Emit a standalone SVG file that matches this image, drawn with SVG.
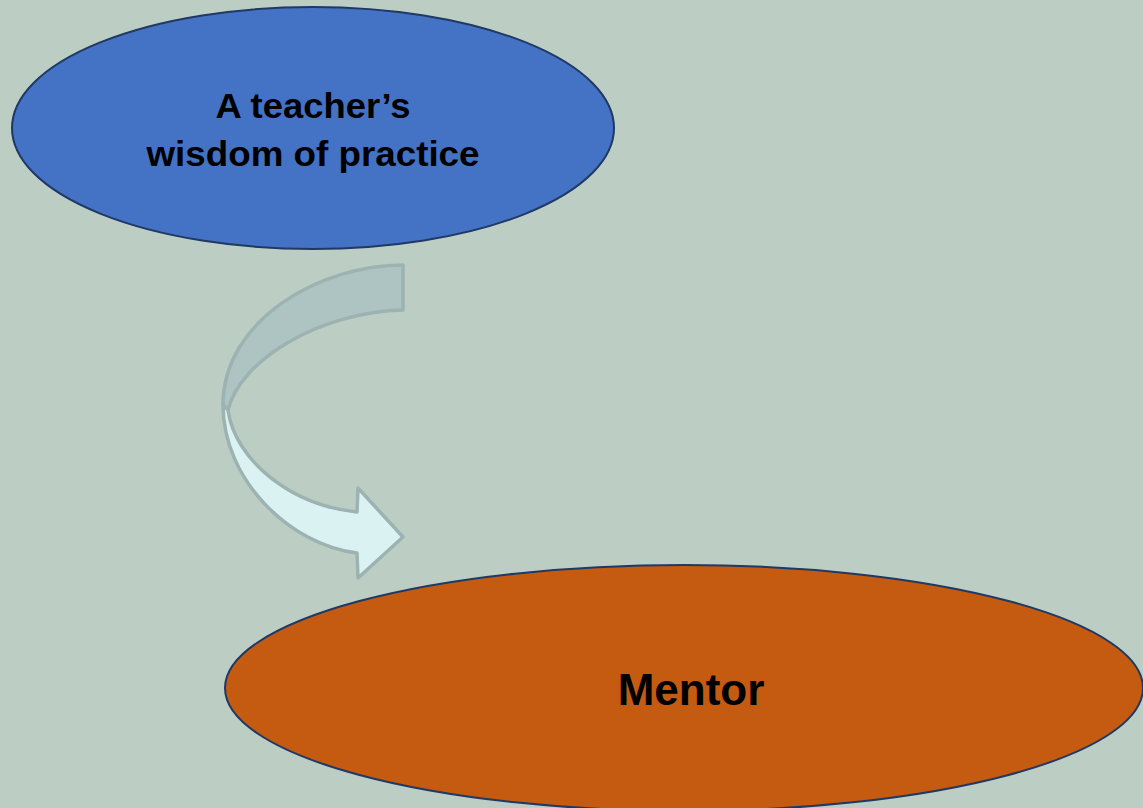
<svg xmlns="http://www.w3.org/2000/svg" width="1143" height="808" viewBox="0 0 1143 808">
<style>
.node { stroke: #203864; stroke-width: 2; }
.lbl { font-family: "Liberation Sans", Arial, sans-serif; font-weight: bold; fill: #000; text-anchor: middle; }
.arr { stroke: #9db3b1; stroke-width: 3.5; stroke-linejoin: round; }
</style>
<rect x="0" y="0" width="1143" height="808" fill="#bccec4"/>
<g id="connectors">
  <path class="arr" fill="#adc4c3" d="M 403 265 L 403 310 C 320 312, 240 360, 228 410 L 223 405 C 223 320, 320 265, 403 265 Z"/>
  <path class="arr" fill="#daf2f2" d="M 223 405 C 223 480, 290 545, 357 553 L 358 578 L 403 537 L 358 488 L 357 512 C 290 505, 235 460, 228 410 Z"/>
</g>
<g id="node-wisdom">
  <ellipse class="node" cx="313" cy="128" rx="301" ry="121" fill="#4472c4"/>
  <text class="lbl" x="313" y="118" font-size="35" textLength="195" lengthAdjust="spacingAndGlyphs">A teacher’s</text>
  <text class="lbl" x="313" y="166" font-size="35" textLength="333" lengthAdjust="spacingAndGlyphs">wisdom of practice</text>
</g>
<g id="node-mentor">
  <ellipse class="node" cx="684" cy="688" rx="459" ry="123" fill="#c55a11"/>
  <text class="lbl" x="691" y="705" font-size="44">Mentor</text>
</g>
</svg>
